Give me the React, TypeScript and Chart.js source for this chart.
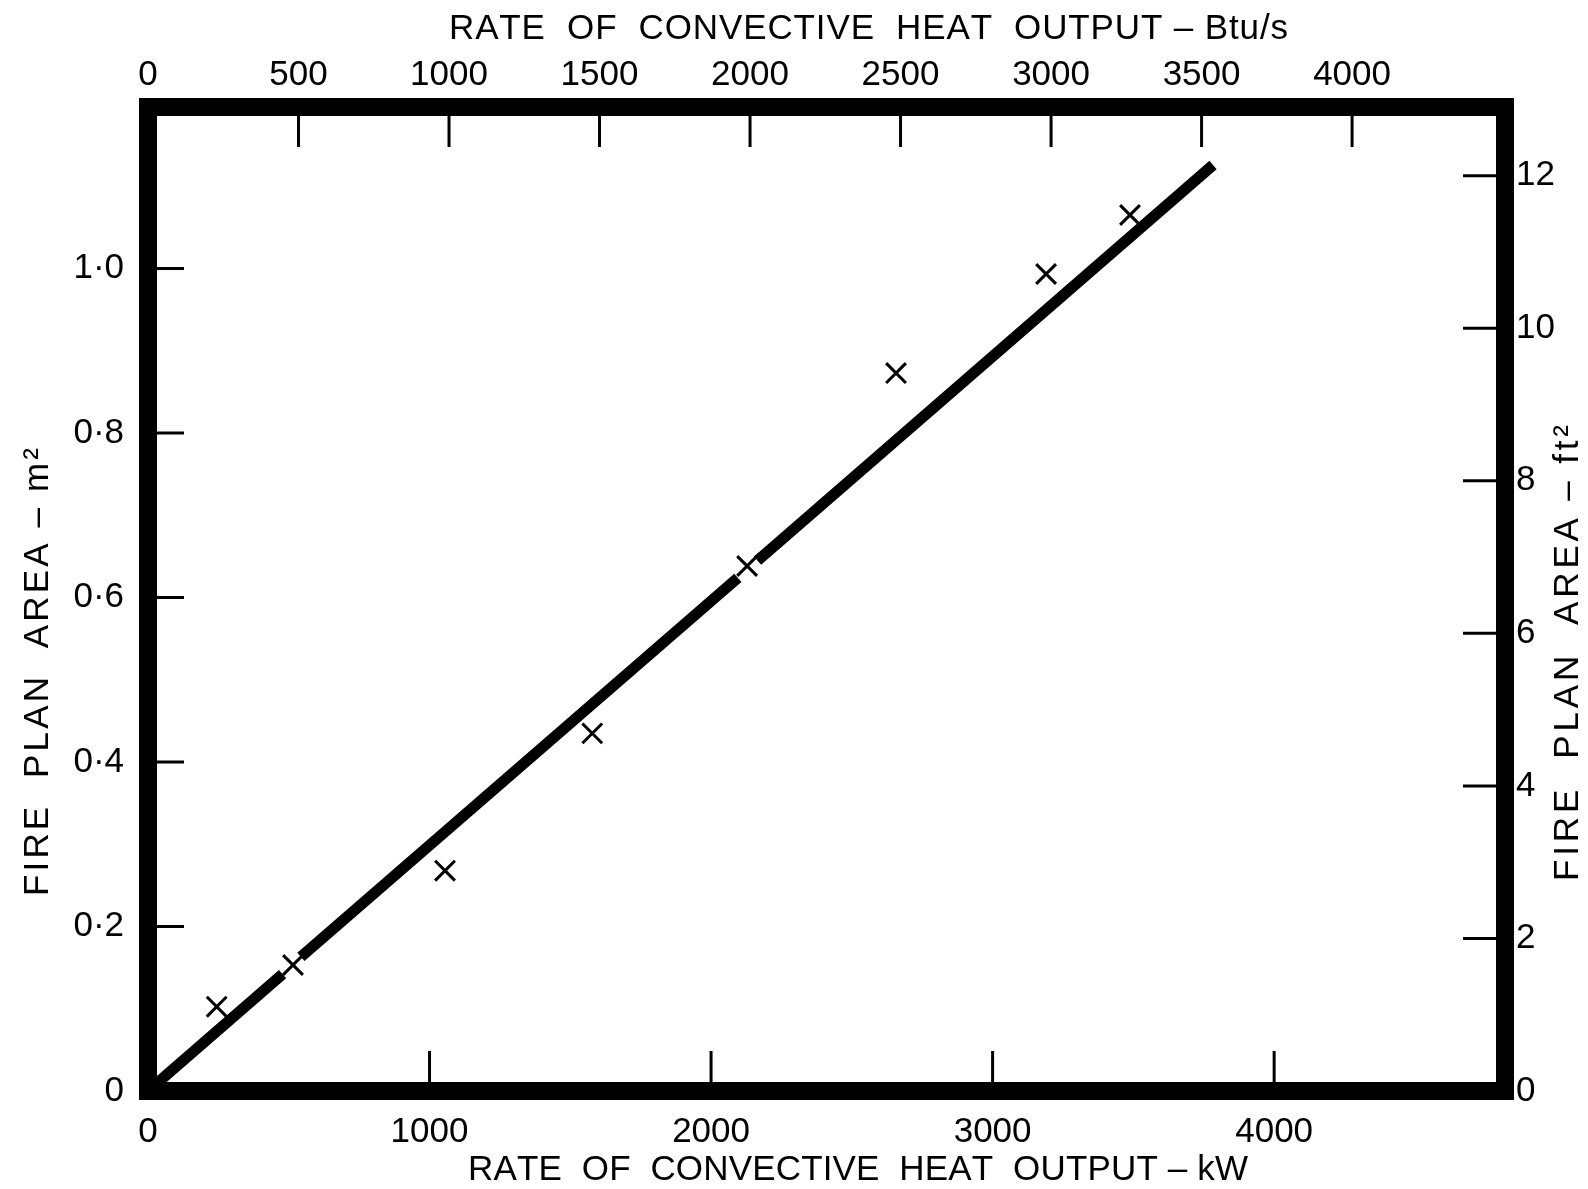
import React, { useEffect, useRef } from 'react';
import { Chart, registerables } from 'chart.js';

Chart.register(...registerables);

// Axis ranges
const KW_MAX = 4820;
const BTU_MAX = 4508;
const M2_MAX = 1.1965;
const FT2_MAX = 12.9;

// Tick values
const kwTicks = [0, 1000, 2000, 3000, 4000];
const btuTicks = [0, 500, 1000, 1500, 2000, 2500, 3000, 3500, 4000];
const m2Ticks = [0, 0.2, 0.4, 0.6, 0.8, 1.0];
const ft2Ticks = [0, 2, 4, 6, 8, 10, 12];

// Measured points (X markers)
const pointKW = [244, 515, 1055, 1578, 2128, 2657, 3190, 3488];
const pointM2 = [0.1025, 0.1532, 0.2679, 0.4349, 0.6384, 0.873, 0.9934, 1.0652];

// Fitted line (drawn with two small breaks, as in the original)
const lineKW = [0, 478, 520, 543, 2095, 2128, 2165, 3783];
const lineM2 = [0, 0.142, null, 0.163, 0.624, null, 0.645, 1.126];

// Titles
const topTitle = 'RATE  OF  CONVECTIVE  HEAT  OUTPUT – Btu/s';
const bottomTitle = 'RATE  OF  CONVECTIVE  HEAT  OUTPUT – kW';
const leftTitle = 'FIRE  PLAN  AREA – m²';
const rightTitle = 'FIRE  PLAN  AREA – ft²';

const FONT_FAMILY = '"Liberation Sans", Arial, sans-serif';
const TICK_FONT = { family: FONT_FAMILY, size: 35 };

function drawSpaced(ctx: CanvasRenderingContext2D, text: string, length: number) {
  const chars = Array.from(text);
  const widths = chars.map((c) => ctx.measureText(c).width);
  const total = widths.reduce((a, b) => a + b, 0);
  const extra = chars.length > 1 ? (length - total) / (chars.length - 1) : 0;
  let x = 0;
  chars.forEach((c, i) => {
    ctx.fillText(c, x, 0);
    x += widths[i] + extra;
  });
}

const framePlugin = {
  id: 'frame',
  beforeDatasetsDraw(chart: any) {
    const { ctx, chartArea: a, scales } = chart;
    ctx.save();
    ctx.strokeStyle = '#000';
    ctx.lineCap = 'butt';
    ctx.lineWidth = 3;
    // inward tick marks
    m2Ticks.filter((v) => v > 0).forEach((v) => {
      const y = scales.y.getPixelForValue(v);
      ctx.beginPath();
      ctx.moveTo(a.left, y);
      ctx.lineTo(a.left + 36, y);
      ctx.stroke();
    });
    ft2Ticks.filter((v) => v > 0).forEach((v) => {
      const y = scales.y2.getPixelForValue(v);
      ctx.beginPath();
      ctx.moveTo(a.right, y);
      ctx.lineTo(a.right - 42, y);
      ctx.stroke();
    });
    kwTicks.filter((v) => v > 0).forEach((v) => {
      const x = scales.x.getPixelForValue(v);
      ctx.beginPath();
      ctx.moveTo(x, a.bottom);
      ctx.lineTo(x, a.bottom - 40);
      ctx.stroke();
    });
    btuTicks.filter((v) => v > 0).forEach((v) => {
      const x = scales.x2.getPixelForValue(v);
      ctx.beginPath();
      ctx.moveTo(x, a.top);
      ctx.lineTo(x, a.top + 40);
      ctx.stroke();
    });
    // thick frame
    ctx.lineWidth = 18;
    ctx.lineJoin = 'miter';
    ctx.strokeRect(a.left, a.top, a.right - a.left, a.bottom - a.top);
    ctx.restore();
  },
  afterDraw(chart: any) {
    const { ctx } = chart;
    ctx.save();
    ctx.fillStyle = '#000';
    ctx.font = `35px ${FONT_FAMILY}`;
    ctx.textBaseline = 'middle';
    ctx.textAlign = 'left';
    // top title
    ctx.save();
    ctx.translate(449, 29);
    drawSpaced(ctx, topTitle, 1288 - 449);
    ctx.restore();
    // bottom title
    ctx.save();
    ctx.translate(468, 1170);
    drawSpaced(ctx, bottomTitle, 1248 - 468);
    ctx.restore();
    // left title (reads bottom to top)
    ctx.save();
    ctx.translate(38, 896);
    ctx.rotate(-Math.PI / 2);
    drawSpaced(ctx, leftTitle, 896 - 448);
    ctx.restore();
    // right title (reads bottom to top)
    ctx.save();
    ctx.translate(1568, 881);
    ctx.rotate(-Math.PI / 2);
    drawSpaced(ctx, rightTitle, 881 - 425);
    ctx.restore();
    ctx.restore();
  },
};

const hiddenGrid = { display: false, drawTicks: false, drawOnChartArea: false };
const plainLabel = (v: any) => String(v);

export default function App() {
  const ref = useRef<HTMLCanvasElement>(null);

  useEffect(() => {
    const canvas = ref.current;
    if (!canvas) return;
    const chart = new Chart(canvas, {
      type: 'scatter',
      data: {
        datasets: [
          {
            label: 'fit',
            data: lineKW.map((x, i) => ({ x, y: lineM2[i] as any })),
            showLine: true,
            spanGaps: false,
            borderColor: '#000',
            backgroundColor: '#000',
            borderWidth: 11,
            borderCapStyle: 'butt',
            pointRadius: 0,
            xAxisID: 'x',
            yAxisID: 'y',
          } as any,
          {
            label: 'measured',
            data: pointKW.map((x, i) => ({ x, y: pointM2[i] })),
            showLine: false,
            pointStyle: 'crossRot',
            pointRadius: 14,
            pointBorderWidth: 3,
            borderColor: '#000',
            backgroundColor: '#000',
            xAxisID: 'x',
            yAxisID: 'y',
          } as any,
        ],
      },
      options: {
        responsive: false,
        animation: false,
        devicePixelRatio: 1,
        layout: { padding: 0 },
        plugins: {
          legend: { display: false },
          tooltip: { enabled: false },
          title: { display: false },
        },
        scales: {
          x: {
            type: 'linear',
            position: 'bottom',
            min: 0,
            max: KW_MAX,
            grid: hiddenGrid,
            border: { display: false },
            ticks: { font: TICK_FONT, color: '#000', padding: 20, maxRotation: 0, autoSkip: false, callback: plainLabel },
            afterBuildTicks: (s: any) => {
              s.ticks = kwTicks.map((value) => ({ value }));
            },
            afterFit: (s: any) => {
              s.height = 98;
            },
          },
          x2: {
            type: 'linear',
            position: 'top',
            min: 0,
            max: BTU_MAX,
            grid: hiddenGrid,
            border: { display: false },
            ticks: { font: TICK_FONT, color: '#000', padding: 11, maxRotation: 0, autoSkip: false, callback: plainLabel },
            afterBuildTicks: (s: any) => {
              s.ticks = btuTicks.map((value) => ({ value }));
            },
            afterFit: (s: any) => {
              s.height = 107;
            },
          },
          y: {
            type: 'linear',
            position: 'left',
            min: 0,
            max: M2_MAX,
            grid: hiddenGrid,
            border: { display: false },
            ticks: {
              font: TICK_FONT,
              color: '#000',
              padding: 24,
              autoSkip: false,
              callback: (v: any) => (Number(v) === 0 ? '0' : Number(v).toFixed(1).replace('.', '·')),
            },
            afterBuildTicks: (s: any) => {
              s.ticks = m2Ticks.map((value) => ({ value }));
            },
            afterFit: (s: any) => {
              s.width = 148;
            },
          },
          y2: {
            type: 'linear',
            position: 'right',
            min: 0,
            max: FT2_MAX,
            grid: hiddenGrid,
            border: { display: false },
            ticks: { font: TICK_FONT, color: '#000', padding: 11, autoSkip: false, callback: plainLabel },
            afterBuildTicks: (s: any) => {
              s.ticks = ft2Ticks.map((value) => ({ value }));
            },
            afterFit: (s: any) => {
              s.width = 83;
            },
          },
        },
      } as any,
      plugins: [framePlugin],
    });
    return () => chart.destroy();
  }, []);

  return (
    <div style={{ position: 'fixed', left: 0, top: 0, width: 1588, height: 1189, background: '#fff' }}>
      <canvas ref={ref} width={1588} height={1189} style={{ display: 'block', width: 1588, height: 1189 }} />
    </div>
  );
}
